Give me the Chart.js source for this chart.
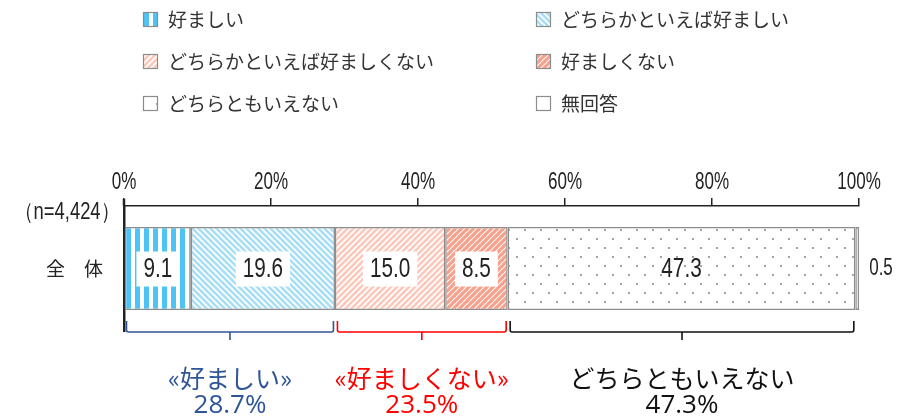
<!DOCTYPE html>
<html>
<head>
<meta charset="utf-8">
<script src="https://cdn.jsdelivr.net/npm/chart.js@4.4.1/dist/chart.umd.min.js"></script>
<style>
  html, body { margin: 0; padding: 0; background: #fff; }
  #wrap { width: 900px; height: 420px; position: relative; }
</style>
</head>
<body>
<div id="wrap"><canvas id="myChart" width="900" height="420"></canvas></div>
<script>
// データ
const categories = ['全　体'];
const sampleLabel = '（n=4,424）';
const seriesNames = ['好ましい', 'どちらかといえば好ましい', 'どちらかといえば好ましくない', '好ましくない', 'どちらともいえない', '無回答'];
const seriesValues = [[9.1], [19.6], [15.0], [8.5], [47.3], [0.5]];
const tickValues = [0, 20, 40, 60, 80, 100];
const groupNames = ['«好ましい»', '«好ましくない»', 'どちらともいえない'];
const groupTotals = ['28.7%', '23.5%', '47.3%'];
const groupSeries = [[0, 1], [2, 3], [4]];

const narrowFamily = '"Liberation Sans", "Noto Sans", sans-serif';
const jpFont = '"Noto Sans CJK JP", sans-serif';

// 細い文字（横方向に縮めて描く）
const narrowText = (g, txt, x, y, size, align, sx = 0.74) => {
    g.save();
    g.font = size + 'px ' + narrowFamily;
    g.translate(x, y);
    g.scale(sx, 1);
    g.textAlign = align;
    g.textBaseline = 'middle';
    g.fillText(txt, 0, 0);
    g.restore();
};
const narrowWidth = (g, txt, size, sx = 0.74) => {
    g.save();
    g.font = size + 'px ' + narrowFamily;
    const w = g.measureText(txt).width * sx;
    g.restore();
    return w;
};

// パターン作成
const makePattern = (kind) => {
    const c = document.createElement('canvas');
    const g = c.getContext('2d');
    if (kind === 'vstripe') {
        c.width = 9; c.height = 9;
        g.fillStyle = '#fff'; g.fillRect(0, 0, 9, 9);
        g.fillStyle = '#4fc3f4'; g.fillRect(0, 0, 5, 9);
    } else if (kind === 'dots') {
        c.width = 16; c.height = 18;
        g.fillStyle = '#fff'; g.fillRect(0, 0, 16, 18);
        g.fillStyle = '#a3a3a3';
        g.fillRect(4, 4, 2, 2);
        g.fillRect(12, 13, 2, 2);
    } else if (kind === 'white') {
        c.width = 4; c.height = 4;
        g.fillStyle = '#fff'; g.fillRect(0, 0, 4, 4);
    } else {
        // 斜線
        const s = 6;
        c.width = s; c.height = s;
        g.fillStyle = '#fff'; g.fillRect(0, 0, s, s);
        g.strokeStyle = kind.color;
        g.lineWidth = kind.width;
        for (const k of [-s, 0, s]) {
            g.beginPath();
            if (kind.dir === 'back') {
                g.moveTo(-1, -1 + k); g.lineTo(s + 1, s + 1 + k);
            } else {
                g.moveTo(-1, s + 1 + k); g.lineTo(s + 1, -1 + k);
            }
            g.stroke();
        }
    }
    return g.createPattern(c, 'repeat');
};

const ctx = document.querySelector('#myChart');
const fills = [
    'vstripe',
    { dir: 'back', color: '#a8ddf6', width: 2.6 },
    { dir: 'fwd', color: '#fcc8ba', width: 2.6 },
    { dir: 'fwd', color: '#f7a08c', width: 3.2 },
    'dots',
    'white'
].map(makePattern);

// ラベル（白い箱あり／なし）
const labelBox = [true, true, true, true, false, false];

const overlayPlugin = {
    id: 'overlay',
    afterDatasetsDraw(chart) {
        const g = chart.ctx;
        const xs = chart.scales.x;
        const area = chart.chartArea;
        g.save();

        // 凡例
        g.font = '19px ' + jpFont;
        g.textBaseline = 'middle';
        g.textAlign = 'left';
        seriesNames.forEach((name, i) => {
            const col = i % 2;
            const row = Math.floor(i / 2);
            const bx = col === 0 ? 143 : 536;
            const by = 12 + row * 42;
            g.fillStyle = fills[i];
            g.fillRect(bx, by, 15, 15);
            g.strokeStyle = '#8c8c8c';
            g.lineWidth = 1.2;
            g.strokeRect(bx + 0.5, by + 0.5, 14, 14);
            g.fillStyle = '#333';
            g.fillText(name, bx + 25, by + 8);
        });

        // 左軸線を少し上へ延ばす
        g.strokeStyle = '#222';
        g.lineWidth = 2.5;
        g.beginPath();
        g.moveTo(area.left, area.top - 7);
        g.lineTo(area.left, area.top);
        g.stroke();

        // 目盛りラベル
        g.fillStyle = '#222';
        tickValues.forEach(v => {
            narrowText(g, v + '%', xs.getPixelForValue(v), 183, 23, 'center');
        });

        // n 表示
        narrowText(g, sampleLabel, area.left - 5, 213, 23, 'right', 0.8);

        // 数値ラベル
        seriesValues.forEach((vals, i) => {
            const meta = chart.getDatasetMeta(i);
            meta.data.forEach((bar, j) => {
                const txt = vals[j].toFixed(1);
                const cy = bar.y;
                if (i === seriesValues.length - 1) {
                    g.fillStyle = '#222';
                    narrowText(g, txt, area.right + 22, cy, 23, 'center');
                    return;
                }
                const cx = (bar.x + bar.base) / 2;
                if (labelBox[i]) {
                    const w = narrowWidth(g, txt, 28) + 14;
                    g.fillStyle = '#fff';
                    g.fillRect(cx - w / 2, cy - 17, w, 35);
                }
                g.fillStyle = '#222';
                narrowText(g, txt, cx, cy + 1, 28, 'center');
            });
        });

        // 括弧
        const colors = ['#2f5597', '#ff0000', '#111'];
        let cum = 0;
        const bounds = groupSeries.map(idx => {
            const start = cum;
            idx.forEach(k => cum += seriesValues[k][0]);
            return [start, cum];
        });
        const yTop = area.bottom - 10;
        bounds.forEach(([a, b], i) => {
            const x1 = xs.getPixelForValue(a) + 2.5;
            const x2 = xs.getPixelForValue(b) - 1.5;
            const xm = (x1 + x2) / 2;
            const ym = yTop + 11;
            g.strokeStyle = colors[i];
            g.lineWidth = 1.6;
            g.beginPath();
            g.moveTo(x1, yTop);
            g.lineTo(x1, ym - 2);
            g.quadraticCurveTo(x1, ym, x1 + 2, ym);
            g.lineTo(x2 - 2, ym);
            g.quadraticCurveTo(x2, ym, x2, ym - 2);
            g.lineTo(x2, yTop);
            g.stroke();
            g.beginPath();
            g.moveTo(xm, ym);
            g.lineTo(xm, ym + 8);
            g.stroke();

            g.fillStyle = colors[i];
            g.textAlign = 'center';
            g.textBaseline = 'middle';
            g.font = '25px ' + jpFont;
            g.fillText(groupNames[i], xm, 378);
            g.font = '26px "Open Sans", "Noto Sans", sans-serif';
            g.fillText(groupTotals[i], xm, 406);
        });
        g.restore();
    }
};

const myChart = new Chart(ctx, {
    type: 'bar',
    data: {
        labels: categories,
        datasets: seriesNames.map((name, i) => ({
            label: name,
            data: seriesValues[i],
            backgroundColor: fills[i],
            borderColor: '#8c8c8c',
            borderWidth: 1.5,
            borderSkipped: false,
            barPercentage: 0.664,
            categoryPercentage: 1.0,
        })),
    },
    options: {
        indexAxis: 'y',
        responsive: false,
        animation: false,
        devicePixelRatio: 1,
        layout: { padding: { top: 0, right: 41, bottom: 89, left: 0 } },
        scales: {
            x: {
                position: 'top',
                stacked: true,
                min: 0,
                max: 100,
                afterBuildTicks: (scale) => {
                    scale.ticks = tickValues.map(v => ({ value: v }));
                },
                afterFit: (scale) => { scale.height = 206; },
                ticks: { display: false },
                grid: {
                    drawOnChartArea: false,
                    drawTicks: true,
                    tickLength: 8,
                    color: '#222',
                    lineWidth: 1.5,
                },
                border: { color: '#222', width: 1.5 },
            },
            y: {
                stacked: true,
                afterFit: (scale) => { scale.width = 124; },
                ticks: {
                    color: '#222',
                    padding: 13,
                    font: { family: jpFont, size: 19 },
                },
                grid: { display: false },
                border: { color: '#222', width: 2.5 },
            },
        },
        plugins: {
            legend: { display: false },
            tooltip: { enabled: false },
        },
    },
    plugins: [overlayPlugin],
});
</script>
</body>
</html>
